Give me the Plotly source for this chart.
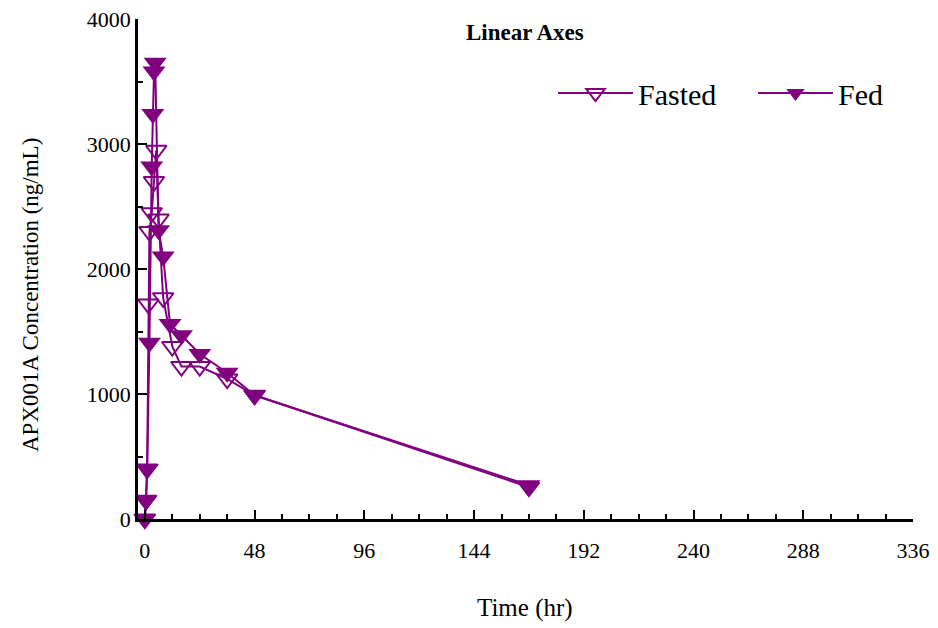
import plotly.graph_objects as go

# Data
time_fasted = [0, 0.5, 1, 1.5, 2, 3, 4, 5, 6, 8, 12, 16, 24, 36, 48, 168]
conc_fasted = [0, 150, 400, 1720, 2300, 2450, 2700, 2950, 2400, 1770, 1380, 1220, 1220, 1120, 990, 255]

time_fed = [0, 0.5, 1, 2, 3, 3.5, 4, 4.5, 6, 8, 11, 16, 24, 36, 48, 168]
conc_fed = [0, 150, 400, 1410, 2820, 3240, 3580, 3650, 2310, 2100, 1560, 1470, 1320, 1170, 990, 270]

x_ticks = [0, 48, 96, 144, 192, 240, 288, 336]
y_ticks = [0, 1000, 2000, 3000, 4000]

purple = "#800080"
serif = "Liberation Serif, Times New Roman, serif"

L, R, T, B = 138, 25, 19, 109
PW, PH = 938 - L - R, 628 - T - B

fig = go.Figure()
fig.add_trace(go.Scatter(
    x=time_fasted, y=conc_fasted, name="Fasted", mode="lines+markers",
    line=dict(color=purple, width=2),
    marker=dict(symbol="triangle-down-open", size=18, color=purple, line=dict(width=2, color=purple)),
    cliponaxis=False,
))
fig.add_trace(go.Scatter(
    x=time_fed, y=conc_fed, name="Fed", mode="lines+markers",
    line=dict(color=purple, width=2),
    marker=dict(symbol="triangle-down", size=20, color=purple, line=dict(width=0)),
    cliponaxis=False,
))

fig.update_layout(
    width=938, height=628,
    margin=dict(l=L, r=R, t=T, b=B, autoexpand=False),
    paper_bgcolor="white", plot_bgcolor="white",
    font=dict(family=serif, color="black", size=20),
    showlegend=True,
    legend=dict(orientation="h", x=(553 - L) / PW, xanchor="left",
                y=1 - (93 - T) / PH, yanchor="middle",
                font=dict(size=30, family=serif), bgcolor="rgba(0,0,0,0)",
                itemwidth=75, tracegroupgap=0,
                entrywidth=110, entrywidthmode="pixels"),
    annotations=[
        dict(text="<b>Linear Axes</b>", x=(525 - L) / PW, xref="paper",
             y=1 - (32 - T) / PH, yref="paper", yanchor="middle", xanchor="center",
             showarrow=False, font=dict(size=23, family=serif)),
        dict(text="Time (hr)", x=(525 - L) / PW, xref="paper",
             y=-(608 - (T + PH)) / PH, yref="paper", yanchor="middle", xanchor="center",
             showarrow=False, font=dict(size=25, family=serif)),
        dict(text="APX001A Concentration (ng/mL)", x=-(L - 30) / PW, xref="paper",
             y=1 - (295 - T) / PH, yref="paper", yanchor="middle", xanchor="center",
             textangle=-90, showarrow=False, font=dict(size=23, family=serif)),
    ],
)

fig.update_xaxes(
    range=[-3, 336], tickvals=x_ticks, ticktext=[str(v) for v in x_ticks],
    ticks="inside", ticklen=9, tickwidth=2, tickcolor="black",
    minor=dict(dtick=12, tick0=0, ticks="inside", ticklen=5, tickwidth=2, tickcolor="black"),
    showline=True, linecolor="black", linewidth=2.5, showgrid=False, zeroline=False,
    tickfont=dict(size=22, family=serif), ticklabelstandoff=10, automargin=False,
)
fig.update_yaxes(
    range=[0, 4000], tickvals=y_ticks, ticktext=[str(v) for v in y_ticks],
    ticks="inside", ticklen=9, tickwidth=2, tickcolor="black",
    minor=dict(dtick=500, tick0=0, ticks="inside", ticklen=5, tickwidth=2, tickcolor="black"),
    showline=True, linecolor="black", linewidth=2.5, showgrid=False, zeroline=False,
    tickfont=dict(size=22, family=serif), automargin=False,
)

fig.write_html("out.html")
